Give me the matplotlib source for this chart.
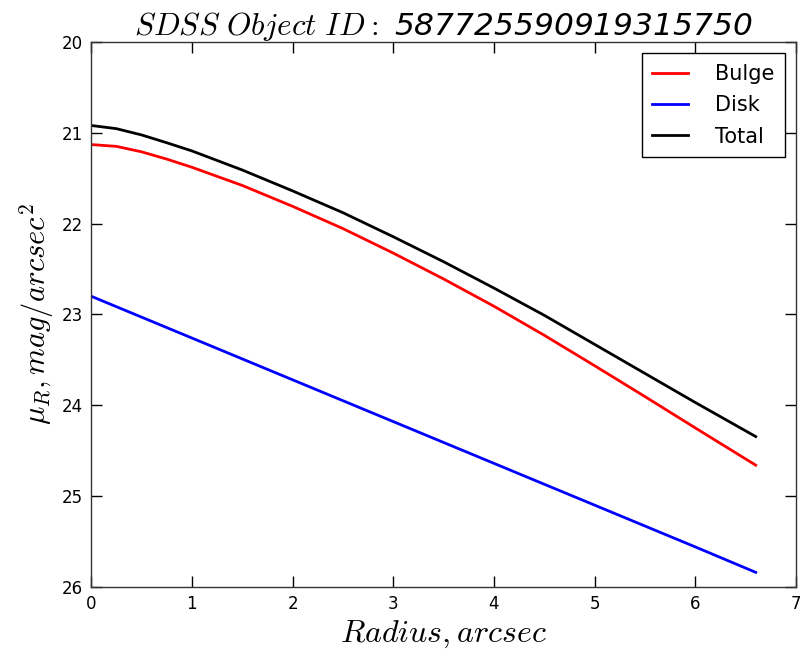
import matplotlib
matplotlib.use("Agg")
import matplotlib.pyplot as plt

plt.rcParams['mathtext.fontset'] = 'cm'
plt.rcParams['font.family'] = ['DejaVu Sans']

# Surface brightness profiles (mag/arcsec^2) sampled along the radius
radius = [0.0, 0.25, 0.5, 0.75, 1.0, 1.5, 2.0, 2.5, 3.0, 3.5, 4.0, 4.5, 5.0,
          5.5, 6.0, 6.6]
bulge = [21.13, 21.15, 21.21, 21.29, 21.38, 21.58, 21.81, 22.055, 22.325,
         22.61, 22.91, 23.23, 23.565, 23.905, 24.25, 24.66]
disk = [22.80, 22.915, 23.03, 23.145, 23.26, 23.49, 23.72, 23.95, 24.18,
        24.41, 24.64, 24.87, 25.10, 25.33, 25.56, 25.84]
total = [20.92, 20.955, 21.024, 21.11, 21.20, 21.41, 21.64, 21.88, 22.145,
         22.42, 22.71, 23.01, 23.33, 23.65, 23.97, 24.345]

object_id = "587725590919315750"

fig = plt.figure(figsize=(8.0, 6.55), dpi=100, facecolor='white')
ax = fig.add_axes([0.114, 0.104, 0.881, 0.832])

ax.plot(radius, bulge, color='red', lw=2, label='Bulge')
ax.plot(radius, disk, color='blue', lw=2, label='Disk')
ax.plot(radius, total, color='black', lw=2, label='Total')

ax.set_xlim(0, 7)
ax.set_ylim(26, 20)
ax.set_xticks(range(0, 8))
ax.set_yticks(range(20, 27))

ax.tick_params(direction='in', top=True, right=True, length=8, width=1,
               labelsize=12, pad=6)
for sp in ax.spines.values():
    sp.set_linewidth(1)
    sp.set_color('#333333')

ax.set_xlabel(r'$Radius, arcsec$', fontsize=23)
ax.set_ylabel(r'$\mu_R, mag/arcsec^2$', fontsize=22)
ax.set_title(r'$SDSS\ Object\ ID:$ ' + object_id, fontsize=22.5,
             fontstyle='italic', pad=5)

leg = ax.legend(loc='upper right', fontsize=15, fancybox=False, framealpha=1,
                edgecolor='black', borderpad=0.5, handlelength=1.7,
                handletextpad=1.3, labelspacing=0.55, borderaxespad=0.55)
leg.get_frame().set_linewidth(1)

fig.savefig('out.png', dpi=100, facecolor='white')
